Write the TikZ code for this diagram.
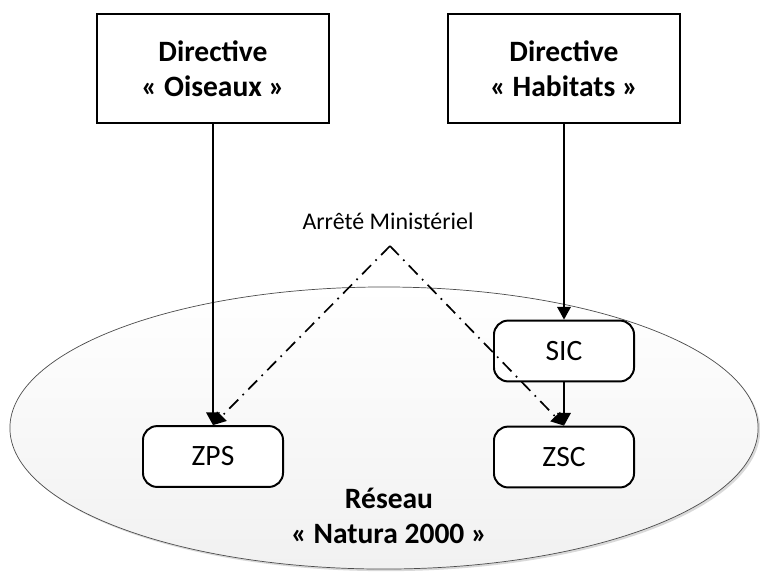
\documentclass[tikz,border=0pt]{standalone}
\usepackage{fontspec}
\setmainfont{Carlito}
\usetikzlibrary{arrows.meta,shadows}
\tikzset{arrow/.style={draw,-{Triangle[length=9pt,width=9.5pt]},line width=1.4pt,#1}}
\tikzset{arrow/.default={black}}
\tikzset{arrete/.style={arrow,line width=1.2pt,dash pattern=on 9pt off 4.5pt on 1.2pt off 4.5pt}}
\tikzset{directive/.style={draw,line width=1.4pt,fill=white,minimum width=5.8cm,minimum height=2.72cm,align=center,font={\bfseries\fontsize{21pt}{25pt}\selectfont}}}
\tikzset{zone/.style={draw,line width=1.4pt,fill=white,rounded corners=10pt,minimum width=3.5cm,minimum height=1.52cm,font={\fontsize{21pt}{25pt}\selectfont}}}
\tikzset{font={\fontsize{21pt}{25pt}\selectfont}}

\begin{document}
\begin{tikzpicture}[x=0.025cm,y=-0.025cm]
        \useasboundingbox (0,0) rectangle (760,574);
        % reseau Natura 2000
        \path[draw=gray!60!black,line width=0.5pt,top color=white,bottom color=gray!11,
              drop shadow={opacity=0.3,shadow xshift=1.5pt,shadow yshift=-1.5pt}]
            (384,428) ellipse [x radius=9.35cm,y radius=3.525cm];
        \node[font={\bfseries\fontsize{21pt}{25pt}\selectfont},align=center] (reseau) at (389,516) {Réseau\\«~Natura 2000~»};

        \node[directive] (oiseaux) at (213,68.5) {Directive\\«~Oiseaux~»};
        \node[directive] (habitats) at (564,68.5) {Directive\\«~Habitats~»};
        \foreach \n\t\x\y in {zps/ZPS/213/456.5, sic/SIC/564/351, zsc/ZSC/564/457}{
            \node[zone] (\n) at (\x,\y) {\t};
        }

        \node[font={\fontsize{17pt}{20pt}\selectfont}] (arrete) at (388,221) {Arrêté Ministériel};
        \coordinate (sommet) at (390,246);
        \path[arrete] (sommet) -- (zps.north);
        \path[arrete] (sommet) -- (zsc.north);

        \path[arrow] (oiseaux.south) -- (zps.north);
        \path[arrow] (habitats.south) -- (sic.north);
        \path[arrow] (sic.south) -- (zsc.north);
    \end{tikzpicture}
\end{document}
